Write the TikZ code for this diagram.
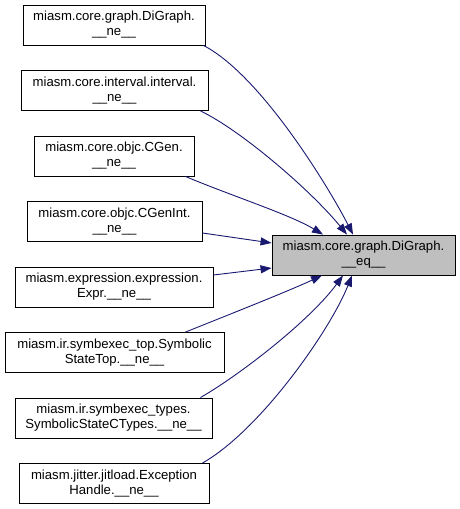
\documentclass[tikz,border=0pt]{standalone}
\usepackage{fontspec}
\setmainfont{Liberation Sans}
\usetikzlibrary{arrows.meta,calc}
\definecolor{edgeblue}{HTML}{191970}
\definecolor{tgtfill}{HTML}{BFBFBF}
\tikzset{
  box/.style={draw=black, line width=0.9bp, fill=white, minimum height=40bp, inner sep=0pt,
    align=center, font=\fontsize{13.2}{15}\selectfont},
  target/.style={box, fill=tgtfill},
  edge/.style={draw=edgeblue, line width=0.9bp, -{Triangle[length=11bp,width=8bp]}}
}
\begin{document}
\begin{tikzpicture}[x=1bp,y=-1bp]
\useasboundingbox (0,0) rectangle (460,509);
\node[box, minimum width=182bp] (n1) at (114,25) {miasm.core.graph.DiGraph.\\\_\_ne\_\_};
\node[box, minimum width=187bp] (n2) at (114.5,90.5) {miasm.core.interval.interval.\\\_\_ne\_\_};
\node[box, minimum width=160bp] (n3) at (114,156) {miasm.core.objc.CGen.\\\_\_ne\_\_};
\node[box, minimum width=175bp] (n4) at (114.5,221.5) {miasm.core.objc.CGenInt.\\\_\_ne\_\_};
\node[box, minimum width=198bp] (n5) at (114,287) {miasm.expression.expression.\\Expr.\_\_ne\_\_};
\node[box, minimum width=219bp] (n6) at (114.5,352.5) {miasm.ir.symbexec\_top.Symbolic\\StateTop.\_\_ne\_\_};
\node[box, minimum width=197bp] (n7) at (113.5,418) {miasm.ir.symbexec\_types.\\SymbolicStateCTypes.\_\_ne\_\_};
\node[box, minimum width=190bp] (n8) at (114,483.5) {miasm.jitter.jitload.Exception\\Handle.\_\_ne\_\_};
\node[target, minimum width=183bp] (t) at (363.5,255) {miasm.core.graph.DiGraph.\\\_\_eq\_\_};

\draw[edge] ($(n1.south east)+(-2,0)$) .. controls +(58,30) and +(-23,-45) .. ($(t.north)+(-10.5,0)$);
\draw[edge] ($(n2.south east)+(-8,0)$) .. controls +(40,19) and +(-37,-45) .. ($(t.north)+(-16.5,0)$);
\draw[edge] ($(n3.south east)+(-9,0)$) .. controls +(45,19) and +(-33,-20) .. ($(t.north)+(-40.5,0)$);
\draw[edge] ($(n4.east)+(0,11.5)$) -- ($(t.west)+(0,-12)$);
\draw[edge] ($(n5.east)+(0,-12)$) -- ($(t.west)+(0,13)$);
\draw[edge] ($(n6.north east)+(-39,0)$) .. controls +(45,-18) and +(-32,15) .. ($(t.south)+(-41.5,0)$);
\draw[edge] ($(n7.north east)+(-12,0)$) .. controls +(40,-23) and +(-33,45) .. ($(t.south)+(-20.5,0)$);
\draw[edge] ($(n8.north east)+(-7,0)$) .. controls +(58,-33) and +(-22,55) .. ($(t.south)+(-11.5,0)$);
\end{tikzpicture}
\end{document}
